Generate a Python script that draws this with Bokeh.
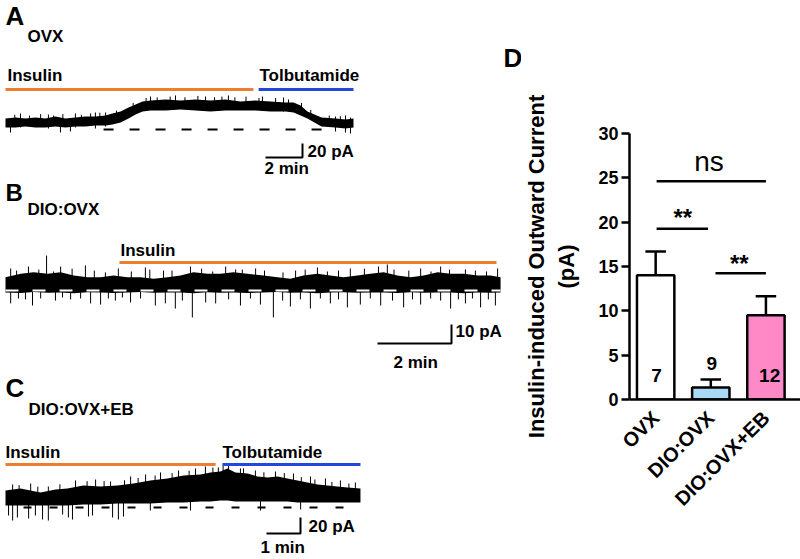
import math
from bokeh.plotting import figure
from bokeh.layouts import row, column
from bokeh.models import Range1d, Label, FixedTicker
from bokeh.embed import file_html
from bokeh.resources import INLINE

FONT = "Liberation Sans"
ORANGE = "#ed7d31"
BLUE = "#2346e0"

# ---------------- Panel A (OVX) : time in min, current in pA ----------------
a_t = [0, 0.54, 1.08, 1.62, 2.16, 2.70, 3.24, 3.78, 4.32, 4.86,
       5.41, 5.78, 6.22, 6.65, 7.03, 7.41, 7.84, 8.65, 9.46, 10.27,
       11.08, 11.89, 12.70, 13.51, 14.32, 15.14, 15.57, 15.95, 16.32, 16.70,
       17.08, 17.84, 18.38, 18.81]
a_hi = [15.7, 17.1, 15.7, 17.1, 15.7, 18.6, 15.7, 17.1, 18.6, 18.6,
        20.0, 22.9, 25.7, 31.4, 35.7, 40.0, 41.4, 42.9, 41.4, 42.9,
        41.4, 42.9, 40.0, 41.4, 40.0, 38.6, 38.6, 34.3, 25.7, 21.4,
        17.1, 15.7, 14.3, 15.7]
a_lo = [2.9, 2.9, 4.3, 2.9, 2.9, 4.3, 2.9, 4.3, 4.3, 5.7,
        5.7, 7.1, 10.0, 15.7, 21.4, 25.7, 27.1, 27.1, 28.6, 27.1,
        25.7, 27.1, 27.1, 27.1, 25.7, 25.7, 24.3, 20.0, 15.7, 10.0,
        4.3, 2.9, 1.4, 2.9]
a_sp_t = [0.81, 2.32, 3.78, 4.86, 5.41, 7.84, 9.19, 10.81, 12.05, 13.89,
          15.03, 17.84, 18.38, 0.27, 2.97, 3.51, 18.65,
          0.5, 1.3, 1.9, 2.6, 3.1, 4.1, 4.6, 5.1, 6.0, 6.9,
          7.6, 8.2, 8.9, 9.7, 10.4, 11.3, 11.7, 12.4, 13.0, 13.7,
          14.6, 15.3, 16.0, 16.5, 17.5, 18.1]
a_sp_hi = [22.9, 21.4, 22.9, 24.3, 24.3, 47.1, 48.6, 47.1, 48.6, 47.1,
           45.7, 18.6, 20.0, 12.9, 12.9, 12.9, 17.1,
           21, 20, 22, 20, 22, 21, 23, 24, 27, 38,
           45, 46, 47, 46, 48, 46, 47, 46, 47, 45,
           45, 43, 38, 28, 20, 19]
a_sp_lo = [2.9, 1.4, 2.9, 1.4, 4.3, 30.0, 30.0, 27.1, 28.6, 27.1,
           25.7, -2.9, -4.3, -4.3, -4.3, -2.9, -5.7,
           12, 12, 12, 12, 12, 13, 14, 15, 18, 28,
           35, 38, 38, 38, 38, 38, 38, 36, 36, 36,
           35, 34, 28, 18, 12, 10]
a_insulin = [0.0, 13.4]
a_tolb = [13.68, 18.81]
a_dash = [5.3, 17.14]

# ---------------- Panel B (DIO:OVX) ----------------
b_t = [0, 0.41, 0.76, 1.14, 1.49, 1.84, 2.22, 2.57, 2.92, 3.30,
       3.65, 4.0, 4.38, 4.73, 5.08, 5.46, 5.81, 6.16, 6.54, 6.97,
       7.35, 7.70, 8.05, 8.43, 8.78, 9.14, 9.51, 9.86, 10.22, 10.59,
       10.95, 11.30, 11.68, 12.03, 12.38, 12.76, 13.11, 13.38]
b_hi = [7.0, 8.8, 9.6, 8.8, 9.6, 7.9, 7.0, 7.0, 7.9, 7.0,
        7.0, 6.2, 7.0, 7.9, 9.6, 8.8, 8.8, 9.6, 8.8, 7.9,
        7.0, 6.2, 7.9, 8.8, 7.9, 7.0, 7.9, 8.8, 9.6, 7.9,
        7.0, 7.9, 9.6, 8.8, 8.8, 7.9, 7.9, 7.0]
b_lo = [-1.0, -1.3, -0.8, -1.2, -1.0, -1.4, -0.9, -1.1, -1.3, -1.0,
        -0.8, -1.2, -1.1, -1.0, -1.4, -0.9, -1.2, -1.0, -1.3, -1.1,
        -0.8, -1.2, -1.0, -1.4, -1.0, -0.9, -1.2, -1.1, -1.0, -1.3,
        -0.9, -1.2, -1.0, -1.1, -1.4, -1.0, -1.2, -1.0]
b_up_t = [0.14, 0.62, 1.11, 1.49, 2.16, 3.05, 3.78, 4.27, 5.0, 5.95,
          6.22, 6.76, 7.84, 8.43, 9.32, 10.08, 10.32, 11.22, 11.76, 12.43, 13.30,
          0.3, 0.9, 1.3, 1.8, 2.4, 2.7, 3.4, 3.9, 4.5, 5.3,
          5.6, 6.4, 7.0, 7.5, 8.1, 8.7, 9.0, 9.7, 10.5, 10.9,
          11.5, 12.0, 12.7, 13.0]
b_up_tip = [11.6, 12.6, 18.4, 12.6, 13.2, 11.6, 12.1, 10.5, 12.6, 12.6,
            11.1, 11.6, 10.5, 12.1, 11.6, 12.6, 13.7, 11.6, 12.6, 11.1, 11.6,
            10.5, 11.0, 10.0, 11.5, 10.5, 9.5, 10.0, 11.0, 10.5, 11.5,
            10.0, 11.0, 10.5, 9.5, 11.0, 10.0, 10.5, 11.5, 11.0, 10.5,
            10.0, 11.0, 10.5, 10.0]
b_dn_t = [0.14, 0.35, 0.54, 0.73, 0.95, 1.35, 1.54, 1.76, 2.03, 2.30,
          2.57, 2.78, 2.97, 3.16, 3.38, 3.65, 4.05, 4.32, 4.59, 4.78,
          5.05, 5.41, 5.68, 6.03, 6.35, 6.62, 6.89, 7.24, 7.49, 7.70,
          7.97, 8.24, 8.51, 8.78, 9.0, 9.24, 9.59, 9.86, 10.14, 10.46,
          10.76, 11.0, 11.22, 11.49, 11.76, 12.03, 12.24, 12.43, 12.62, 12.84,
          13.05, 13.24]
b_dn_tip = [-6.8, -4.2, -4.7, -7.9, -4.2, -5.3, -3.7, -4.7, -4.2, -6.8,
            -7.4, -4.2, -5.3, -3.7, -6.3, -4.2, -7.9, -6.8, -9.5, -5.3,
            -14.2, -6.3, -6.8, -4.7, -7.9, -4.2, -7.4, -14.2, -5.3, -8.4,
            -4.7, -9.5, -4.2, -6.8, -4.7, -8.9, -7.4, -4.2, -7.9, -5.3,
            -8.9, -4.7, -7.4, -4.2, -5.3, -9.5, -4.7, -6.8, -4.2, -8.9,
            -4.7, -7.9]
b_insulin = [3.08, 13.27]
b_dash = [0.0, 13.38]

# ---------------- Panel C (DIO:OVX+EB) ----------------
c_t = [0, 0.44, 1.03, 1.47, 1.82, 2.29, 2.79, 3.29, 3.76, 4.26,
       4.76, 5.24, 5.74, 6.03, 6.32, 6.53, 6.76, 7.12, 7.41, 7.71,
       8.0, 8.29, 8.59, 8.88, 9.18, 9.47, 9.76, 10.06, 10.44]
c_hi = [21.3, 23.8, 18.8, 22.5, 23.8, 27.5, 26.3, 27.5, 30.0, 33.8,
        36.3, 40.0, 41.3, 43.8, 45.0, 48.8, 43.8, 42.5, 38.8, 37.5,
        38.8, 36.3, 33.8, 31.3, 28.8, 27.5, 26.3, 25.0, 23.8]
c_lo = [2.5, 2.5, 2.5, 2.5, 2.5, 3.8, 3.8, 5.0, 5.0, 5.0,
        6.3, 6.3, 7.5, 7.5, 8.8, 8.8, 7.5, 7.5, 7.5, 7.5,
        7.5, 7.5, 6.3, 6.3, 6.3, 6.3, 6.3, 6.3, 6.3]
c_up_t = [0.21, 0.74, 1.26, 2.06, 2.65, 3.09, 3.68, 4.12, 4.56, 5.09,
          5.59, 5.88, 6.26, 6.56, 6.91, 7.35, 7.94, 8.47, 8.97, 9.41, 9.85, 10.29,
          0.4, 0.95, 1.6, 2.4, 2.9, 3.5, 3.9, 4.4, 4.9, 5.4,
          6.1, 6.4, 7.0, 7.6, 8.2, 8.7, 9.1, 9.6, 10.1]
c_up_tip = [28.8, 30.0, 26.3, 33.8, 35.0, 32.5, 38.8, 41.3, 43.8, 46.3,
            48.8, 51.3, 50.0, 52.5, 48.8, 46.3, 45.0, 42.5, 38.8, 36.3, 33.8, 31.3,
            28, 26, 29, 33, 33, 34, 37, 40, 43, 46,
            50, 52, 49, 44, 43, 38, 35, 32, 30]
c_dn_t = [0.09, 0.21, 0.35, 0.68, 0.88, 1.09, 1.26, 1.68, 1.85, 1.97,
          2.44, 2.56, 3.15, 3.32, 3.47, 4.26, 5.44, 7.5, 8.68]
c_dn_tip = [-10.0, -16.3, -12.5, -13.8, -10.0, -15.0, -16.3, -8.8, -12.5, -15.0,
            -11.3, -10.0, -12.5, -15.0, -11.3, -3.8, -3.8, -3.8, -2.5]
c_insulin = [0.0, 6.18]
c_tolb = [6.38, 10.44]
c_dash = [0.53, 10.06]

# ---------------- Panel D (bar chart) ----------------
groups = ["OVX", "DIO:OVX", "DIO:OVX+EB"]
means = [14.0, 1.35, 9.5]
sems = [2.7, 0.9, 2.15]
n_cells = ["7", "9", "12"]
bar_colors = ["white", "#a8daf6", "#ff88c6"]
y_ticks = [0, 5, 10, 15, 20, 25, 30]

LEFT_W = 521
TOTAL_W = 800
TOTAL_H = 559
CORR = 0.38   # baseline correction for Label text (fraction of font size)
A_TOP, B_TOP, C_TOP = 0, 178, 372


def trace_fig(height, m, k, base_y, top_y):
    """m: px per minute, k: px per pA, base_y: page y of 0 pA, top_y: page y of figure top"""
    x0 = (0 - 5) / m
    x1 = x0 + LEFT_W / m
    y1 = (base_y - top_y) / k
    y0 = y1 - height / k
    p = figure(width=LEFT_W, height=height, x_range=Range1d(x0, x1), y_range=Range1d(y0, y1),
               toolbar_location=None, output_backend="svg",
               x_axis_location=None, y_axis_location=None, min_border=0)
    p.grid.visible = False
    p.outline_line_color = None
    px = lambda X: (X - 5) / m
    py = lambda Y: (base_y - Y) / k
    return p, px, py


def lab(p, conv, X, Y, text, size, bold=True, align="left"):
    """X, Y: page position of the text's left/centre and its baseline"""
    fx, fy = conv
    p.add_layout(Label(x=fx(X), y=fy(Y - CORR * size), text=text, text_font=FONT,
                       text_font_size=f"{size}px",
                       text_font_style="bold" if bold else "normal", text_align=align,
                       text_baseline="alphabetic", text_color="black"))


def scale_bar(p, cx, cy, dur, amp):
    p.line(x=[cx - dur, cx, cx], y=[cy, cy, cy + amp], line_color="black", line_width=2)


# ---- A ----
pa, px, py = trace_fig(B_TOP - A_TOP, 18.5, 0.7, 129, A_TOP)
cv = (px, py)
pa.line(x=a_dash, y=[0, 0], line_color="black", line_width=2, line_dash="10 16")
pa.varea(x=a_t, y1=a_lo, y2=a_hi, fill_color="black")
pa.segment(x0=a_sp_t, y0=a_sp_lo, x1=a_sp_t, y1=a_sp_hi, line_color="black", line_width=1)
pa.line(x=a_insulin, y=[py(89)] * 2, line_color=ORANGE, line_width=3)
pa.line(x=a_tolb, y=[py(89)] * 2, line_color=BLUE, line_width=3)
scale_bar(pa, px(302), py(157), 2, 20)
lab(pa, cv, 5, 25, "A", 26)
lab(pa, cv, 27, 42, "OVX", 17)
lab(pa, cv, 7, 81, "Insulin", 17)
lab(pa, cv, 259, 81, "Tolbutamide", 17)
lab(pa, cv, 307, 157, "20 pA", 17)
lab(pa, cv, 264, 174, "2 min", 17)
lab(pa, cv, 503, 67, "D", 26)

# ---- B ----
pb, px, py = trace_fig(C_TOP - B_TOP, 37, 1.9, 290, B_TOP)
cv = (px, py)
pb.varea(x=b_t, y1=b_lo, y2=b_hi, fill_color="black")
pb.segment(x0=b_up_t, y0=[4] * len(b_up_t), x1=b_up_t, y1=b_up_tip, line_color="black", line_width=1)
pb.segment(x0=b_dn_t, y0=[1] * len(b_dn_t), x1=b_dn_t, y1=b_dn_tip, line_color="black", line_width=1)
pb.line(x=b_dash, y=[0, 0], line_color="white", line_width=2, line_dash="13 14")
pb.line(x=b_insulin, y=[py(262)] * 2, line_color=ORANGE, line_width=3)
scale_bar(pb, px(451), py(343), 2, 10)
lab(pb, cv, 5, 201, "B", 24)
lab(pb, cv, 27, 215, "DIO:OVX", 17)
lab(pb, cv, 120, 256, "Insulin", 17)
lab(pb, cv, 455, 337, "10 pA", 17)
lab(pb, cv, 393, 368, "2 min", 17)

# ---- C ----
pc, px, py = trace_fig(TOTAL_H - C_TOP, 34, 0.8, 507, C_TOP)
cv = (px, py)
pc.line(x=c_dash, y=[0, 0], line_color="black", line_width=2, line_dash="8 18")
pc.varea(x=c_t, y1=c_lo, y2=c_hi, fill_color="black")
pc.segment(x0=c_up_t, y0=[12] * len(c_up_t), x1=c_up_t, y1=c_up_tip, line_color="black", line_width=1)
pc.segment(x0=c_dn_t, y0=[8] * len(c_dn_t), x1=c_dn_t, y1=c_dn_tip, line_color="black", line_width=1)
pc.line(x=c_insulin, y=[py(464)] * 2, line_color=ORANGE, line_width=3)
pc.line(x=c_tolb, y=[py(464)] * 2, line_color=BLUE, line_width=3)
scale_bar(pc, px(300), py(533), 1, 20)
lab(pc, cv, 5, 397, "C", 26)
lab(pc, cv, 28, 415, "DIO:OVX+EB", 17)
lab(pc, cv, 5, 458, "Insulin", 17)
lab(pc, cv, 222, 458, "Tolbutamide", 17)
lab(pc, cv, 308, 532, "20 pA", 17)
lab(pc, cv, 260, 553, "1 min", 17)

# ---- D ----
PXU = 59.0       # px per category unit
Y0 = 399         # page y of 0
Y30 = 133        # page y of 30
PYU = (Y0 - Y30) / 30.0
X1 = 645.0       # page x of first bar
FRAME_L = 617
dx = lambda X: 1 + (X - X1) / PXU
dy = lambda Y: (Y0 - Y) / PYU
cv = (dx, dy)

xs = [1, 2, 3]
pd_ = figure(width=TOTAL_W - LEFT_W, height=TOTAL_H,
             x_range=Range1d(dx(FRAME_L), dx(TOTAL_W)), y_range=Range1d(0, 30),
             toolbar_location=None, output_backend="svg",
             min_border_left=FRAME_L - LEFT_W, min_border_right=0, min_border_top=Y30,
             min_border_bottom=TOTAL_H - Y0)
pd_.grid.visible = False
pd_.outline_line_color = None

tops = [m + s for m, s in zip(means, sems)]
pd_.segment(x0=xs, y0=means, x1=xs, y1=tops, line_color="black", line_width=2.5)
pd_.segment(x0=[x - 0.186 for x in xs], y0=tops, x1=[x + 0.186 for x in xs], y1=tops,
            line_color="black", line_width=2.5)
pd_.vbar(x=xs, top=means, width=40 / PXU, fill_color=bar_colors, line_color="black", line_width=2.5)

# significance lines
pd_.segment(x0=[dx(646), dx(646), dx(709)], y0=[dy(180.7), dy(228.3), dy(272.7)],
            x1=[dx(763), dx(701), dx(763)], y1=[dy(180.7), dy(228.3), dy(272.7)],
            line_color="black", line_width=2.5)
lab(pd_, cv, 702, 172, "ns", 28, bold=False, align="center")
lab(pd_, cv, 674, 226, "**", 24, align="center")
lab(pd_, cv, 734.5, 272, "**", 24, align="center")

# n labels
lab(pd_, cv, 646, 382, n_cells[0], 19, align="center")
lab(pd_, cv, 705, 370, n_cells[1], 19, align="center")
lab(pd_, cv, 767, 382, n_cells[2], 19, align="center")

yax = pd_.yaxis[0]
yax.bounds = (0, 30)
yax.ticker = FixedTicker(ticks=y_ticks, minor_ticks=[])
yax.axis_line_width = 2.5
yax.major_tick_line_width = 2.5
yax.major_tick_out = 8
yax.major_tick_in = 0
yax.minor_tick_line_color = None
yax.major_label_text_font = FONT
yax.major_label_text_font_style = "bold"
yax.major_label_text_font_size = "18px"
yax.major_label_text_color = "black"
yax.major_label_standoff = 3
yax.axis_label = "Insulin-induced Outward Current\n(pA)"
yax.axis_label_text_font = FONT
yax.axis_label_text_font_style = "bold"
yax.axis_label_text_font_size = "22px"
yax.axis_label_text_color = "black"
yax.axis_label_standoff = 16

xax = pd_.xaxis[0]
xax.ticker = FixedTicker(ticks=xs, minor_ticks=[])
xax.major_label_overrides = {1: groups[0], 2: groups[1], 3: groups[2]}
xax.major_label_orientation = math.pi / 4
xax.axis_line_width = 2.5
xax.major_tick_line_color = None
xax.minor_tick_line_color = None
xax.major_tick_out = 0
xax.major_tick_in = 0
xax.major_label_text_font = FONT
xax.major_label_text_font_style = "bold"
xax.major_label_text_font_size = "20px"
xax.major_label_text_color = "black"
xax.major_label_standoff = 15

layout = row(column(pa, pb, pc), pd_)
open("out.html", "w").write(file_html(layout, INLINE))
